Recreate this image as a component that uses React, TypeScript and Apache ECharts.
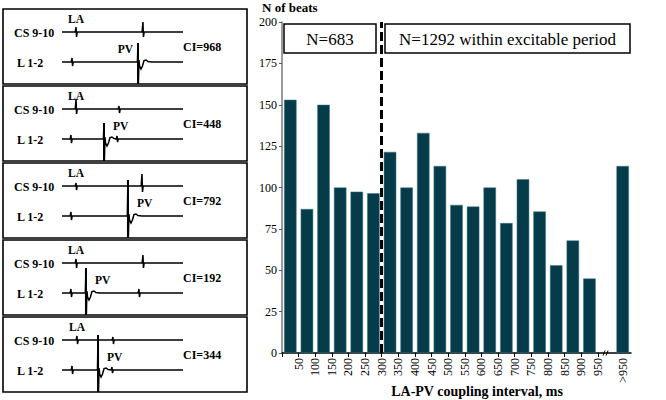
import { useEffect, useRef } from 'react';
import * as echarts from 'echarts';

// ---- histogram data ----
const categories = ['50', '100', '150', '200', '250', '300', '350', '400', '450', '500', '550', '600', '650', '700', '750', '800', '850', '900', '950', '', '>950'];
const beats = [153, 87, 150, 100, 97.5, 96.5, 121.5, 100, 133, 113, 89.5, 88.5, 100, 78.5, 105, 85.5, 53, 68, 45, '-', 113];
const xTickLabels = ['50', '100', '150', '200', '250', '300', '350', '400', '450', '500', '550', '600', '650', '700', '750', '800', '850', '900', '950'];
const yTickValues = [0, 25, 50, 75, 100, 125, 150, 175, 200];
const excitableStart = 300;
const breakAt = 975;
const groupTexts = ['N=683', 'N=1292 within excitable period'];
const yTitle = 'N of beats';
const xTitle = 'LA-PV coupling interval, ms';

// ---- electrogram panels (times on a 0-1000 trace scale, amplitudes in px) ----
const panelCI = [968, 448, 792, 192, 344];
const csSpikes = [
  [[116, 5, 5], [669, 10, 5]],
  [[116, 10, 5], [471, 3, 4]],
  [[116, 3, 4], [661, 12, 6]],
  [[116, 4, 5], [669, 8, 5]],
  [[124, 4, 4], [421, 3, 4]],
];
const lSpikes = [
  [[83, 4, 4]],
  [[74, 4, 4], [455, 3, 3]],
  [[74, 4, 4]],
  [[74, 4, 4], [636, 4, 4]],
  [[83, 4, 4], [413, 3, 3]],
];
const pvTime = [628, 347, 545, 198, 298];
const pvAmp = [19, 16, 36, 25, 35];
const pvLabelLeft = [true, false, false, false, false];
const csName = 'CS 9-10';
const lName = 'L 1-2';

const SERIF = 'Liberation Serif';

function buildPanels(): any[] {
  const els: any[] = [];
  const traceX0 = 62;
  const traceW = 121;
  const tx = (t: number) => traceX0 + (t / 1000) * traceW;
  panelCI.forEach((ci, i) => {
    const T = 9 + i * 77;
    const H = 75;
    const csY = T + 23;
    const lY = T + 53;
    els.push({
      type: 'rect',
      shape: { x: 3, y: T, width: 244, height: H },
      style: { fill: '#fff', stroke: '#000', lineWidth: 1.6 },
      z: 1,
    });
    // CS trace
    const csPts: number[][] = [[traceX0, csY]];
    [...csSpikes[i]].sort((a, b) => a[0] - b[0]).forEach(([t, up, dn]) => {
      const x = tx(t);
      csPts.push([x - 0.8, csY], [x, csY - up], [x + 0.5, csY + dn], [x + 1.2, csY]);
    });
    csPts.push([traceX0 + traceW, csY]);
    // L trace with PV complex
    const lPts: number[][] = [[traceX0, lY]];
    const evs: any[] = lSpikes[i].map((s) => ({ t: s[0], up: s[1], dn: s[2], pv: false }));
    evs.push({ t: pvTime[i], up: pvAmp[i], dn: T + H - lY, pv: true });
    evs.sort((a, b) => a.t - b.t);
    evs.forEach((e) => {
      const x = tx(e.t);
      if (e.pv) {
        lPts.push(
          [x - 0.6, lY], [x, lY - e.up], [x + 0.4, lY + e.dn], [x + 1.0, lY - 2],
          [x + 1.6, lY + 4], [x + 3, lY + 7], [x + 4.5, lY + 4], [x + 6, lY - 1.5],
          [x + 8, lY - 2], [x + 10, lY - 0.5], [x + 14, lY]
        );
      } else {
        lPts.push([x - 0.8, lY], [x, lY - e.up], [x + 0.5, lY + e.dn], [x + 1.2, lY]);
      }
    });
    lPts.push([traceX0 + traceW, lY]);
    els.push({ type: 'polyline', shape: { points: csPts }, style: { stroke: '#000', lineWidth: 1.5, fill: 'none' }, z: 2 });
    els.push({ type: 'polyline', shape: { points: lPts }, style: { stroke: '#000', lineWidth: 1.5, fill: 'none' }, z: 2 });
    // thick PV spike
    const px = tx(pvTime[i]);
    els.push({ type: 'line', shape: { x1: px, y1: lY - pvAmp[i], x2: px, y2: T + H }, style: { stroke: '#000', lineWidth: 2 }, z: 2 });
    const lab = (text: string, x: number, y: number, size: number, align: string) => ({
      type: 'text', x, y, z: 3,
      style: { text, fontFamily: SERIF, fontWeight: 'bold', fontSize: size, fill: '#000', align, verticalAlign: 'middle' },
    });
    els.push(lab(csName, 14, csY + 1, 12, 'left'));
    els.push(lab(lName, 17, lY + 1, 12, 'left'));
    els.push(lab('LA', tx(csSpikes[i][0][0]), T + 10, 11.5, 'center'));
    els.push(pvLabelLeft[i] ? lab('PV', px - 5, T + 40, 11.5, 'right') : lab('PV', px + 9, T + 40, 11.5, 'left'));
    els.push(lab('CI=' + ci, 183, T + 38, 12, 'left'));
  });
  return els;
}

export default function App() {
  const ref = useRef<HTMLDivElement>(null);
  useEffect(() => {
    if (!ref.current) return;
    const chart = echarts.init(ref.current, null, { renderer: 'svg' });
    const tickVals = xTickLabels.map((s) => Number(s));
    const option: any = {
      animation: false,
      backgroundColor: '#fff',
      textStyle: { fontFamily: SERIF },
      grid: { left: 282, right: 35, top: 22, bottom: 47, containLabel: false },
      xAxis: [
        {
          type: 'category',
          data: categories,
          axisLine: { show: true, lineStyle: { color: '#000', width: 1.5 } },
          axisTick: { show: false },
          axisLabel: {
            rotate: 90, margin: 5, fontSize: 12, color: '#000', fontFamily: SERIF, interval: 0,
            formatter: (v: string) => (v === '>950' ? v : ''),
          },
          splitLine: { show: false },
        },
        {
          type: 'value',
          min: 0,
          max: 1050,
          interval: 50,
          position: 'bottom',
          axisLine: { show: false },
          axisTick: { show: true, length: 4, customValues: [0, ...tickVals], lineStyle: { color: '#000', width: 1 } },
          axisLabel: {
            rotate: 90, margin: 5, fontSize: 12, color: '#000', fontFamily: SERIF,
            customValues: tickVals,
            formatter: (v: number) => (v >= 50 && v <= 950 ? String(v) : ''),
          },
          splitLine: { show: false },
        },
      ],
      yAxis: {
        type: 'value',
        min: yTickValues[0],
        max: yTickValues[yTickValues.length - 1],
        interval: 25,
        axisLine: { show: true, lineStyle: { color: '#7a7a7a', width: 1.5 } },
        axisTick: { show: true, length: 3, lineStyle: { color: '#555' } },
        axisLabel: { margin: 5, fontSize: 12, color: '#000', fontFamily: SERIF },
        splitLine: { show: false },
      },
      series: [
        {
          type: 'bar',
          xAxisIndex: 0,
          yAxisIndex: 0,
          data: beats,
          barCategoryGap: '25%',
          itemStyle: { color: '#063c49', borderColor: '#3d7684', borderWidth: 0.5 },
          z: 2,
        },
        {
          type: 'line',
          xAxisIndex: 1,
          yAxisIndex: 0,
          data: [[excitableStart, 0]],
          showSymbol: false,
          lineStyle: { width: 0 },
          markLine: {
            silent: true,
            symbol: 'none',
            label: { show: false },
            lineStyle: { type: [9, 4], width: 3, color: '#000' },
            data: [{ xAxis: excitableStart }],
          },
          z: 5,
        },
      ],
    };
    chart.setOption(option);

    const bx = chart.convertToPixel({ xAxisIndex: 1 }, breakAt) as number;
    const by = chart.convertToPixel({ yAxisIndex: 0 }, 0) as number;
    const g: any[] = buildPanels();
    // group boxes
    g.push({ type: 'rect', shape: { x: 284, y: 24, width: 92, height: 29 }, style: { fill: '#fff', stroke: '#000', lineWidth: 1.5 }, z: 10 });
    g.push({ type: 'text', x: 330, y: 39, z: 11, style: { text: groupTexts[0], fontFamily: SERIF, fontSize: 17, fill: '#000', align: 'center', verticalAlign: 'middle' } });
    g.push({ type: 'rect', shape: { x: 385, y: 24, width: 245, height: 29 }, style: { fill: '#fff', stroke: '#000', lineWidth: 1.5 }, z: 10 });
    g.push({ type: 'text', x: 507.5, y: 39, z: 11, style: { text: groupTexts[1], fontFamily: SERIF, fontSize: 17, fill: '#000', align: 'center', verticalAlign: 'middle' } });
    // axis titles
    g.push({ type: 'text', x: 262, y: 7, z: 11, style: { text: yTitle, fontFamily: SERIF, fontWeight: 'bold', fontSize: 13, fill: '#000', align: 'left', verticalAlign: 'middle' } });
    g.push({ type: 'text', x: 477, y: 391, z: 11, style: { text: xTitle, fontFamily: SERIF, fontWeight: 'bold', fontSize: 14, fill: '#000', align: 'center', verticalAlign: 'middle' } });
    // axis break mark
    g.push({ type: 'line', shape: { x1: bx - 3, y1: by + 2.5, x2: bx - 1, y2: by - 2.5 }, style: { stroke: '#000', lineWidth: 1 }, z: 11 });
    g.push({ type: 'line', shape: { x1: bx + 0, y1: by + 2.5, x2: bx + 2, y2: by - 2.5 }, style: { stroke: '#000', lineWidth: 1 }, z: 11 });
    chart.setOption({ graphic: { elements: g } });

    return () => chart.dispose();
  }, []);
  return <div ref={ref} style={{ position: 'fixed', left: 0, top: 0, width: 666, height: 400 }} />;
}
